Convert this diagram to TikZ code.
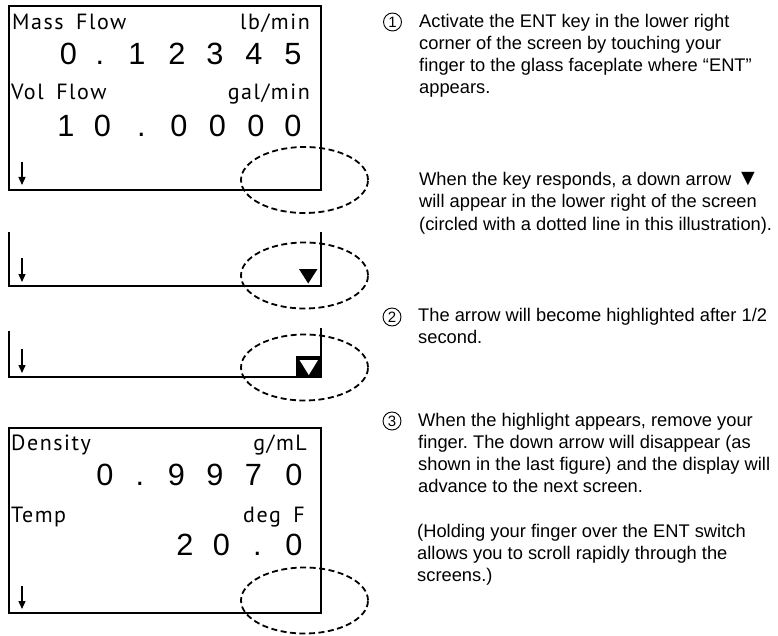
\documentclass[tikz,border=0pt]{standalone}
\usepackage{fontspec}
\setmainfont{Liberation Sans}
\newfontfamily\lcdfont[LetterSpace=7, WordSpace=1.7]{PT Sans}
\usetikzlibrary{arrows.meta}
\frenchspacing

\begin{document}
\begin{tikzpicture}[x=1pt, y=-1pt,
    lcd/.style={line width=2pt},
    ring/.style={dash pattern=on 6pt off 3.5pt, line width=1.8pt},
    lbl/.style={inner sep=0pt, font=\lcdfont\fontsize{22}{24}\selectfont},
    digit/.style={inner sep=0pt, anchor=base, font=\fontsize{30.7}{36}\selectfont},
    note/.style={inner sep=0pt, anchor=base west, align=left, font=\fontsize{18.3}{22}\selectfont},
    stepno/.style={circle, draw, line width=0.9pt, minimum size=18pt, inner sep=0pt, font=\fontsize{15}{15}\selectfont},
    key/.style={line width=1.3pt, -{Triangle[length=8pt, width=7pt]}}]
    \useasboundingbox (0,0) rectangle (778,636);

    \draw[ring] (304.5,180) ellipse (63.5pt and 33pt);
    \draw[ring] (304.5,275.5) ellipse (63.5pt and 33pt);
    \draw[ring] (304.5,367.5) ellipse (63.5pt and 33pt);
    \draw[ring] (304.5,600.5) ellipse (63.5pt and 33pt);

    \draw[lcd] (9,6) rectangle (321,190);
    \node[lbl, anchor=base west] (mass) at (12,30) {Mass Flow};
    \node[lbl, anchor=base east] (massunit) at (310,30) {lb/min};
    \foreach \c/\px [count=\i] in {0/68.5, ./100, 1/137, 2/177, 3/215, 4/254, 5/293}
        \node[digit] (mf\i) at (\px,65) {\c};
    \node[lbl, anchor=base west] (vol) at (11,100) {Vol Flow};
    \node[lbl, anchor=base east] (volunit) at (310,100) {gal/min};
    \foreach \c/\px [count=\i] in {1/66, 0/102.5, ./141.5, 0/179, 0/217.5, 0/256, 0/293}
        \node[digit] (vf\i) at (\px,137) {\c};
    \draw[key] (22,162) -- (22,185);

    \draw[lcd] (9,232) -- (9,286) -- (321,286) -- (321,232);
    \draw[key] (22,258) -- (22,282);
    \fill (299,269) -- (317.5,269) -- (308.2,283.5) -- cycle;

    \draw[lcd] (9,331) -- (9,377) -- (321,377) -- (321,328);
    \draw[key] (22,349) -- (22,373);
    \fill (296,356) rectangle (321,377);
    \fill[white] (299.5,360) -- (318,360) -- (308.8,375) -- cycle;

    \draw[lcd] (9,428) rectangle (321,613);
    \node[lbl, anchor=base west] (dens) at (11,450) {Density};
    \node[lbl, anchor=base east] (densunit) at (307,450) {g/mL};
    \foreach \c/\px [count=\i] in {0/105, ./140, 9/176.5, 9/215, 7/253.5, 0/294}
        \node[digit] (dn\i) at (\px,485) {\c};
    \node[lbl, anchor=base west] (temp) at (11,522) {Temp};
    \node[lbl, anchor=base east] (tempunit) at (305,522) {deg F};
    \foreach \c/\px [count=\i] in {2/185, 0/221.5, ./257.5, 0/294}
        \node[digit] (tp\i) at (\px,555) {\c};
    \draw[key] (22,586) -- (22,609);

    \node[stepno] (s1) at (392.5,22) {1};
    \node[note] (p1) at (419,94) {Activate the ENT key in the lower right\\corner of the screen by touching your\\finger to the glass faceplate where “ENT”\\appears.};
    \node[note] (p2) at (419,230) {When the key responds, a down arrow {\fontsize{23}{23}\selectfont ▼}\\will appear in the lower right of the screen\\(circled with a dotted line in this illustration).};
    \node[stepno] (s2) at (392,317) {2};
    \node[note] (p3) at (418,343) {The arrow will become highlighted after 1/2\\second.};
    \node[stepno] (s3) at (392,421) {3};
    \node[note] (p4) at (418,492) {When the highlight appears, remove your\\finger. The down arrow will disappear (as\\shown in the last figure) and the display will\\advance to the next screen.};
    \node[note] (p5) at (417,581) {(Holding your finger over the ENT switch\\allows you to scroll rapidly through the\\screens.)};
\end{tikzpicture}
\end{document}
